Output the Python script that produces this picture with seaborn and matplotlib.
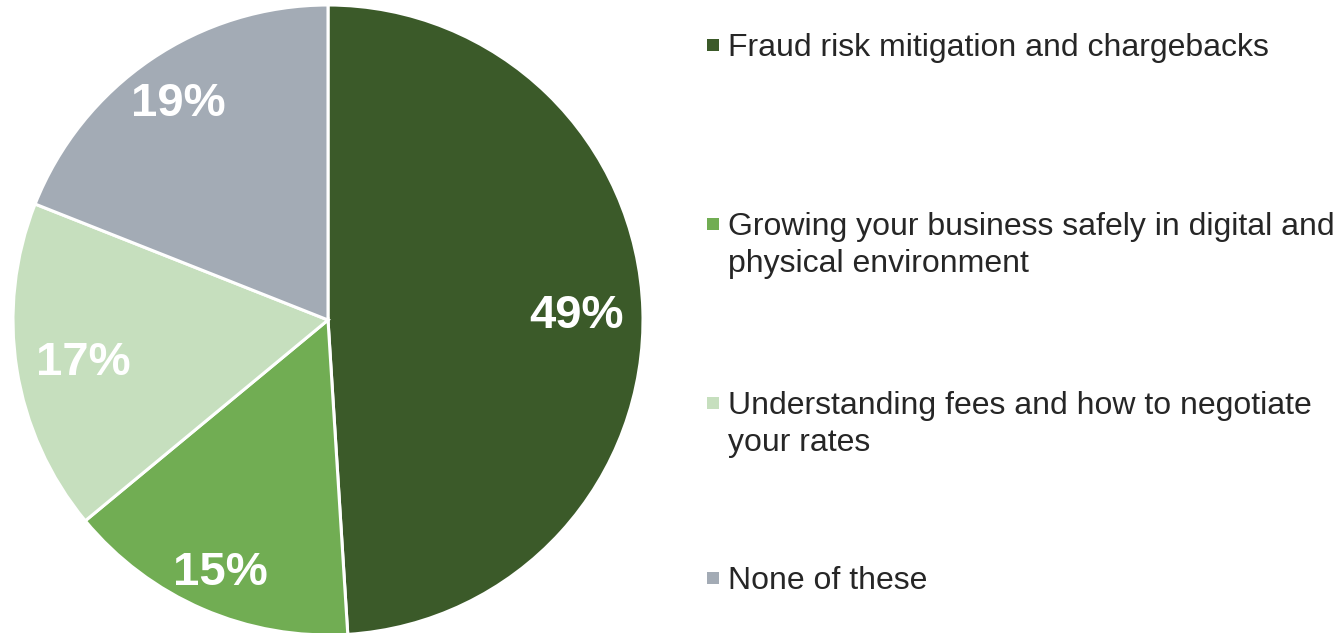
import matplotlib
matplotlib.use("Agg")
import matplotlib.pyplot as plt
from matplotlib.patches import Rectangle
from matplotlib.transforms import offset_copy
import numpy as np
import seaborn as sns

categories = [
    "Fraud risk mitigation and chargebacks",
    "Growing your business safely in digital and\nphysical environment",
    "Understanding fees and how to negotiate\nyour rates",
    "None of these",
]
shares = [49, 15, 17, 19]
colors = ["#3B5A29", "#71AD53", "#C6DFBE", "#A3ABB5"]
label_radii = [0.79, 0.86, 0.787, 0.844]

sns.set_theme(style="white")
plt.rcParams["font.family"] = ["Liberation Sans", "DejaVu Sans"]

W, H = 1340, 633
fig = plt.figure(figsize=(W / 100, H / 100), dpi=100)

cx, cy, r = 328, 320, 315
ax = fig.add_axes([(cx - r) / W, (H - cy - r) / H, 2 * r / W, 2 * r / H])
wedges, texts, autotexts = ax.pie(
    shares,
    colors=colors,
    startangle=90,
    counterclock=False,
    autopct=lambda p: f"{p:.0f}%",
    pctdistance=0.8,
    wedgeprops=dict(edgecolor="white", linewidth=2.2),
    textprops=dict(color="white", fontsize=34, fontweight="bold"),
)
# place each percentage along its wedge's bisector, nudged so the digits sit centred
label_tr = offset_copy(ax.transData, fig=fig, x=0, y=-4, units="dots")
for w, t, rad in zip(wedges, autotexts, label_radii):
    ang = np.deg2rad((w.theta1 + w.theta2) / 2)
    t.set_position((rad * np.cos(ang), rad * np.sin(ang)))
    t.set_transform(label_tr)
ax.set_xlim(-1, 1)
ax.set_ylim(-1, 1)
ax.set_aspect("equal")
ax.axis("off")

# legend: square swatch beside the first line of each entry
first_baselines = [56, 235, 414, 589]
line_step = 37
sw = 12
for cat, col, y in zip(categories, colors, first_baselines):
    fig.patches.append(Rectangle((707 / W, (H - (y - 11) - sw / 2) / H), sw / W, sw / H,
                                 transform=fig.transFigure, facecolor=col,
                                 edgecolor="none"))
    for i, line in enumerate(cat.split("\n")):
        fig.text(728 / W, (H - y - i * line_step) / H, line, ha="left", va="baseline",
                 fontsize=23, color="#262626", transform=fig.transFigure)

fig.savefig("out.png", dpi=100, facecolor="white")
